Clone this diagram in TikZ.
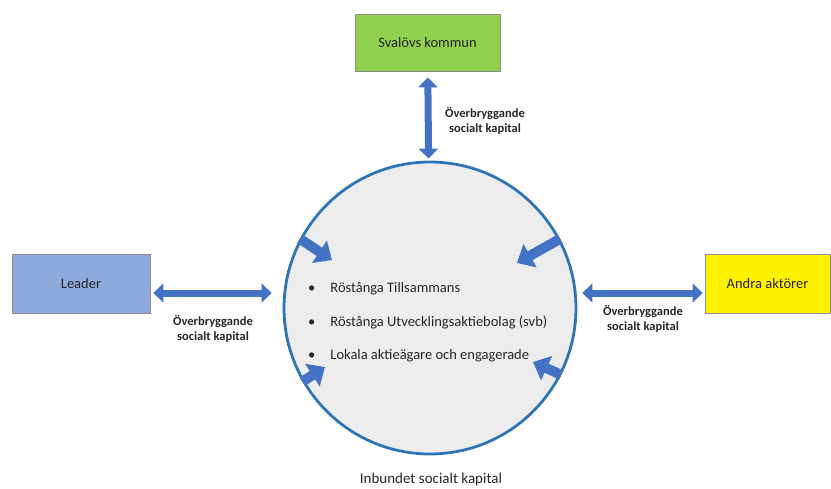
\documentclass[tikz,border=0pt]{standalone}
\usepackage{fontspec}
\setmainfont{Carlito}
\usetikzlibrary{arrows.meta}
\pgfdeclarelayer{nodelayer}
\pgfdeclarelayer{edgelayer}
\pgfsetlayers{edgelayer,nodelayer,main}
\definecolor{arrowblue}{HTML}{4472C4}
\definecolor{ringblue}{HTML}{2E75B6}
\tikzstyle{box}=[draw=black!45, line width=0.8pt, shape=rectangle, text=black!85, font=\fontsize{14.5}{17}\selectfont]
\tikzstyle{ring}=[fill=black!7, draw=ringblue, line width=2.8pt, shape=circle, inner sep=0pt, minimum size=292pt]
\tikzstyle{none}=[fill=none, draw=none, inner sep=0pt]
\tikzstyle{label}=[none, align=center, text=black!85, font=\fontsize{12.5}{15}\bfseries\selectfont]
\tikzstyle{item}=[none, anchor=base west, text=black!85, font=\fontsize{14.5}{17}\selectfont]
\tikzstyle{link}=[draw=arrowblue, line width=7pt, {Triangle[width=19pt,length=10pt]}-{Triangle[width=19pt,length=10pt]}]
\tikzstyle{inward}=[draw=arrowblue, line width=10pt, -{Triangle[width=26pt,length=15pt]}]

\begin{document}
\begin{tikzpicture}[x=1pt, y=-1pt]
	\useasboundingbox (0, 0) rectangle (831, 488);
	\begin{pgfonlayer}{nodelayer}
		\node [style=box, fill={rgb,255:red,146;green,208;blue,80}, minimum width=145pt, minimum height=57pt] (0) at (427.5, 42.5) {Svalövs kommun};
		\node [style=box, fill={rgb,255:red,142;green,169;blue,219}, minimum width=138pt, minimum height=59pt] (1) at (81, 283.5) {Leader};
		\node [style=box, fill=yellow, minimum width=125pt, minimum height=59pt] (2) at (767.5, 283.5) {Andra aktörer};
		\node [style=ring] (3) at (430, 308) {};
		\node [style=label] (4) at (485, 121) {Överbryggande\\socialt kapital};
		\node [style=label] (5) at (213, 329) {Överbryggande\\socialt kapital};
		\node [style=label] (6) at (643, 319) {Överbryggande\\socialt kapital};
		\node [style=item] (7) at (308, 292) {\textbullet\hspace{15pt}Röstånga Tillsammans};
		\node [style=item] (8) at (308, 326) {\textbullet\hspace{15pt}Röstånga Utvecklingsaktiebolag (svb)};
		\node [style=item] (9) at (308, 359) {\textbullet\hspace{15pt}Lokala aktieägare och engagerade};
		\node [style=none, font=\fontsize{15}{18}\selectfont, text=black!85] (10) at (431, 479) {Inbundet socialt kapital};
		\coordinate (11) at (332, 260);
		\coordinate (12) at (517, 263);
		\coordinate (13) at (325, 367);
		\coordinate (14) at (533, 362);
		\coordinate (15) at ([yshift=-9.5pt]1.east);
		\coordinate (16) at ([yshift=-9.5pt]2.west);
	\end{pgfonlayer}
	\begin{pgfonlayer}{edgelayer}
		\draw [style=link, shorten <=6pt, shorten >=2pt] (0) to (3);
		\draw [style=link, shorten <=3pt, shorten >=11pt] (15) to (15 -| 3.west);
		\draw [style=link, shorten <=2pt, shorten >=5pt] (16) to (16 -| 3.east);
	\end{pgfonlayer}
	\draw [style=inward] (3.152) to (11);
	\draw [style=inward] (3.28) to (12);
	\draw [style=inward] (3.210) to (13);
	\draw [style=inward] (3.-27) to (14);
\end{tikzpicture}
\end{document}
